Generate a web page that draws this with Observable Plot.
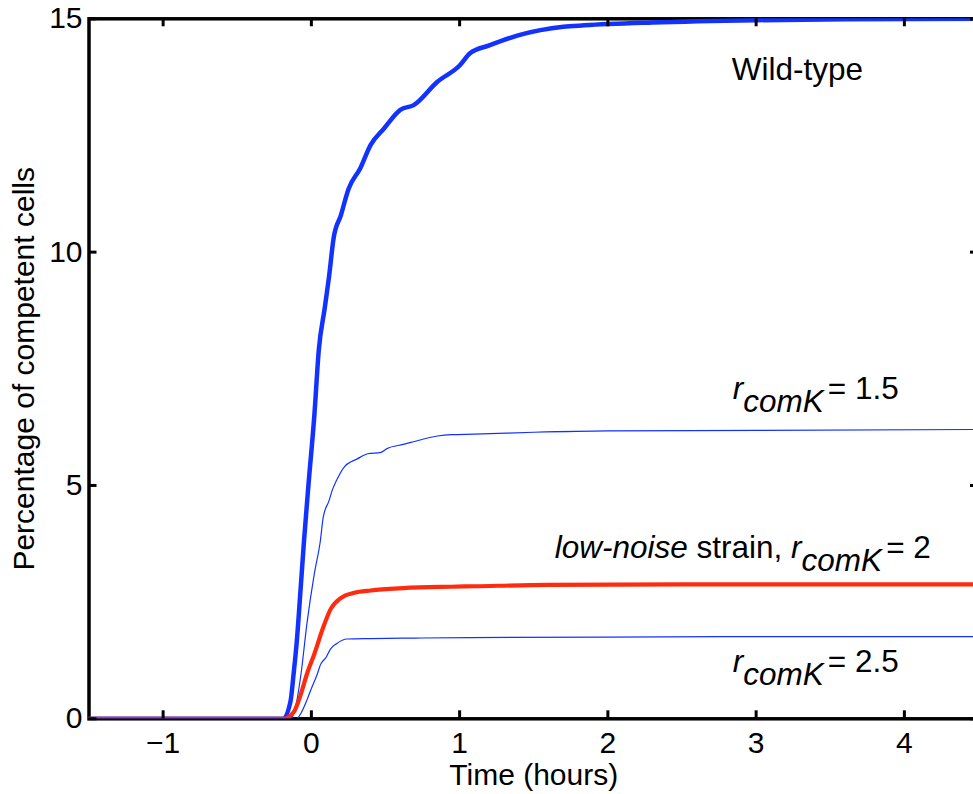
<!DOCTYPE html>
<html><head><meta charset="utf-8">
<script src="https://cdn.jsdelivr.net/npm/d3@7"></script>
<script src="https://cdn.jsdelivr.net/npm/@observablehq/plot@0.6"></script>
<style>
html,body{margin:0;padding:0;background:#fff;overflow:hidden;}
#chart svg{display:block;}
</style></head>
<body><div id="chart"></div>
<script>
// ---- data (time in hours, percentage of competent cells) ----
const wtTime = [-1.5, -0.19, -0.14, -0.12, -0.1, -0.07, -0.05, -0.02, 0.02, 0.05, 0.09, 0.12, 0.15, 0.2, 0.25, 0.33, 0.4, 0.49, 0.6, 0.69, 0.85, 1.0, 1.07, 1.2, 1.4, 1.7, 1.84, 2.3, 3.0, 3.6, 4.5];
const wtPct  = [0, 0, 0.39, 0.96, 1.6, 2.9, 3.8, 5.0, 6.5, 7.9, 8.8, 9.5, 10.3, 10.8, 11.35, 11.8, 12.3, 12.65, 13.05, 13.15, 13.65, 14.0, 14.26, 14.43, 14.65, 14.83, 14.86, 14.92, 14.97, 14.99, 15.0];

const r15Time = [-1.5, -0.14, -0.11, -0.07, -0.03, 0.02, 0.06, 0.08, 0.12, 0.14, 0.17, 0.22, 0.31, 0.38, 0.47, 0.51, 0.62, 0.74, 0.85, 0.94, 1.1, 1.5, 2.0, 3.0, 4.5];
const r15Pct  = [0, 0, 0.21, 0.96, 2.04, 3.11, 3.8, 4.32, 4.68, 4.89, 5.11, 5.39, 5.57, 5.68, 5.71, 5.79, 5.88, 5.98, 6.06, 6.09, 6.1, 6.14, 6.17, 6.18, 6.2];

const r25Time = [-1.5, -0.1, -0.07, -0.03, 0.0, 0.04, 0.06, 0.1, 0.13, 0.17, 0.24, 0.4, 0.7, 1.07, 2.0, 3.0, 4.5];
const r25Pct  = [0, 0, 0.12, 0.4, 0.65, 0.96, 1.15, 1.32, 1.5, 1.61, 1.71, 1.72, 1.73, 1.74, 1.75, 1.76, 1.76];

const lowTime = [-1.5, -0.19, -0.12, -0.07, -0.03, 0.02, 0.08, 0.13, 0.2, 0.29, 0.4, 0.62, 0.94, 1.1, 1.6, 2.5, 3.5, 4.5];
const lowPct  = [0, 0, 0.14, 0.54, 0.96, 1.39, 1.96, 2.35, 2.59, 2.70, 2.75, 2.80, 2.83, 2.84, 2.87, 2.88, 2.88, 2.88];

const xTicks = [-1, 0, 1, 2, 3, 4];
const yTicks = [0, 5, 10, 15];
const xLabel = "Time (hours)";
const yLabel = "Percentage of competent cells";

// annotation texts (parts: italic / subscript flags) and anchor positions in data units
const annoParts = [
  [{t: "Wild-type"}],
  [{t: "r", i: true}, {t: "comK", i: true, sub: true}, {t: "= 1.5"}],
  [{t: "low-noise", i: true}, {t: " strain, "}, {t: "r", i: true}, {t: "comK", i: true, sub: true}, {t: "= 2"}],
  [{t: "r", i: true}, {t: "comK", i: true, sub: true}, {t: "= 2.5"}]
];
const annoX = [2.839, 2.846, 1.645, 2.846];
const annoY = [13.68, 6.84, 3.435, 1.0];

// ---- build table ----
const rows = [];
const addSeries = (name, T, V) => T.forEach((t, i) => rows.push({series: name, t, v: V[i]}));
addSeries("r15", r15Time, r15Pct);
addSeries("r25", r25Time, r25Pct);
addSeries("wt", wtTime, wtPct);
addSeries("low", lowTime, lowPct);
const S = name => rows.filter(d => d.series === name);

const fam = "'Liberation Sans', Arial, Helvetica, sans-serif";
const blue = "#1233ff";
const red = "#ff2b0f";
const tickLenY = 0.171, tickLenX = 0.054;
const fmt = d => (d < 0 ? "\u2212" : "") + Math.abs(d);

const chart = Plot.plot({
  width: 973, height: 794,
  marginLeft: 88.5, marginRight: -5, marginTop: 18.3, marginBottom: 75.7,
  style: {fontFamily: fam, fontSize: "30px", color: "#000", background: "#fff"},
  x: {domain: [-1.5, 4.5]},
  y: {domain: [0, 15]},
  marks: [
    Plot.axisX(xTicks, {anchor: "bottom", tickSize: 0, tickPadding: 13, label: null, fontSize: 30, tickFormat: fmt}),
    Plot.axisY(yTicks, {anchor: "left", tickSize: 0, tickPadding: 6.5, label: null, fontSize: 30, tickFormat: fmt}),
    Plot.frame({stroke: "#000", strokeWidth: 3.5}),
    Plot.line(S("r15"), {x: "t", y: "v", stroke: blue, strokeWidth: 1.2, clip: true, curve: "monotone-x"}),
    Plot.line(S("r25"), {x: "t", y: "v", stroke: blue, strokeWidth: 1.2, clip: true, curve: "monotone-x"}),
    Plot.line(S("wt"), {x: "t", y: "v", stroke: blue, strokeWidth: 4.5, clip: true, curve: "monotone-x"}),
    Plot.line(S("low"), {x: "t", y: "v", stroke: red, strokeWidth: 4.2, clip: true, curve: "monotone-x"}),
    Plot.ruleX(xTicks, {x: d => d, y1: 0, y2: tickLenY, stroke: "#000", strokeWidth: 3}),
    Plot.ruleX(xTicks, {x: d => d, y1: 15 - tickLenY, y2: 15, stroke: "#000", strokeWidth: 3}),
    Plot.ruleY(yTicks, {y: d => d, x1: -1.5, x2: -1.5 + tickLenX, stroke: "#000", strokeWidth: 3}),
    Plot.ruleY(yTicks, {y: d => d, x1: 4.5 - tickLenX, x2: 4.5, stroke: "#000", strokeWidth: 3}),
    Plot.text([xLabel], {frameAnchor: "bottom", dy: 66, lineAnchor: "bottom", textAnchor: "middle", fontSize: 30, fill: "#000"}),
    Plot.text([yLabel], {frameAnchor: "left", rotate: -90, dx: -55, lineAnchor: "bottom", textAnchor: "middle", fontSize: 30, fill: "#000"})
  ]
});

// rich-text annotations placed through the plot's own scales
const sx = chart.scale("x"), sy = chart.scale("y");
const svg = d3.select(chart);
annoParts.forEach((parts, k) => {
  const text = svg.append("text")
    .attr("x", sx.apply(annoX[k]))
    .attr("y", sy.apply(annoY[k]))
    .attr("text-anchor", "start")
    .attr("font-family", fam)
    .attr("font-size", 31.5)
    .attr("fill", "#000");
  let prevSub = false;
  parts.forEach(p => {
    const ts = text.append("tspan").text(p.t);
    if (p.i) ts.attr("font-style", "italic");
    if (p.sub) { ts.attr("dy", 13).attr("font-size", 31.5); }
    else if (prevSub) { ts.attr("dy", -13).attr("dx", 4); }
    prevSub = !!p.sub;
  });
});

document.getElementById("chart").appendChild(chart);
</script>
</body></html>
